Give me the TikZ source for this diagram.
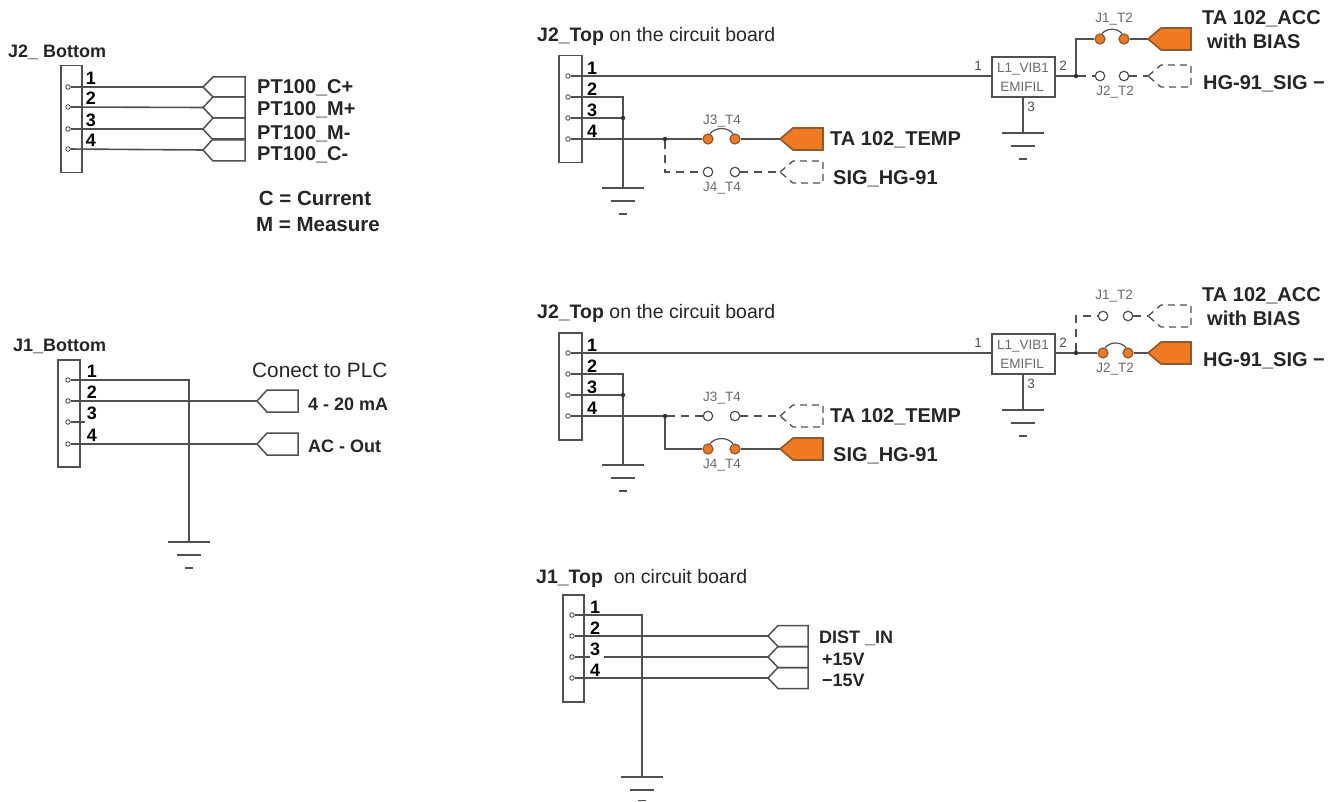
\documentclass[tikz,border=0pt]{standalone}
\usepackage{fontspec}
\setmainfont{Liberation Sans}
\definecolor{ln}{HTML}{505050}
\definecolor{tx}{HTML}{262626}
\definecolor{sm}{HTML}{6A6A6A}
\definecolor{org}{HTML}{F07A22}
\definecolor{orgd}{HTML}{8A5A30}
\tikzset{
  wire/.style={draw=ln,line width=1.6pt},
  wireheavy/.style={draw=ln,line width=2.2pt},
  wireon/.style={draw=ln,line width=1.6pt},
  wireoff/.style={draw=ln,line width=1.3pt,dash pattern=on 8pt off 6pt},
  swon/.style={circle,draw=orgd,fill=org,line width=1.2pt,minimum size=10pt,inner sep=0pt},
  swoff/.style={circle,draw=ln,fill=white,line width=1.2pt,minimum size=9.5pt,inner sep=0pt},
  tagon/.style={draw=orgd,fill=org,line width=1.6pt},
  tagoff/.style={draw=ln,line width=1.3pt,dash pattern=on 7pt off 5pt},
  tagplain/.style={draw=ln,line width=1.5pt},
  hdr/.style={draw=ln,line width=1.5pt,fill=white,anchor=north west,inner sep=0pt},
  pinmark/.style={circle,draw=ln,fill=white,line width=.9pt,minimum size=4.5pt,inner sep=0pt},
  num/.style={font=\fontsize{18}{20}\selectfont\bfseries,text=black,inner sep=0pt},
  blab/.style={font=\fontsize{20}{22}\selectfont\bfseries,text=tx,anchor=mid west,inner sep=0pt,yshift=-4pt},
  clab/.style={font=\fontsize{20.5}{22}\selectfont\bfseries,text=tx,anchor=center,inner sep=0pt},
  mlab/.style={font=\fontsize{18}{20}\selectfont\bfseries,text=tx,anchor=mid west,inner sep=0pt,yshift=-4pt},
  rlab/.style={font=\fontsize{19.5}{21}\selectfont,text=tx,anchor=mid west,inner sep=0pt,yshift=-4pt},
  plclab/.style={font=\fontsize{20.8}{23}\selectfont,text=tx,anchor=mid west,inner sep=0pt,yshift=-4pt},
  smalltxt/.style={font=\fontsize{13.5}{15}\selectfont,text=sm,inner sep=0pt},
  filt/.style={draw=ln,line width=1.6pt,fill=white,minimum width=63pt,minimum height=40pt,inner sep=0pt},
  jdot/.style={circle,fill=black!80,minimum size=4.5pt,inner sep=0pt},
}
% name, box x, box y, box w, pin x, pin ys, number x, number y offset
\newcommand{\header}[8]{%
  \node[hdr,minimum width=#4pt,minimum height=107pt] (#1) at (#2,#3) {};
  \foreach \i/\py in {#6}{\node[pinmark] (#1-\i) at (#5,\py) {};}
  \foreach \i/\py in {#6}{\node[num] (#1-n\i) at (#7,\py+#8) {\i};}
}
% name, tip x, y, slope dx, right x, half height
\newcommand{\plaintag}[6]{%
  \coordinate (#1) at (#2,#3);
  \draw[tagplain] (#1) -- ++(#4,-#6) -- (#5,#3-#6) -- (#5,#3+#6) -- (#2+#4,#3+#6) -- cycle;
}
% name, x, y, offset of the third bar
\newcommand{\gnd}[4]{%
  \coordinate (#1) at (#2,#3);
  \draw[wire] (#2-21,#3) -- (#2+21,#3);
  \draw[wire] (#2-12,#3+13) -- (#2+12,#3+13);
  \draw[wire] (#2-4,#3+#4) -- (#2+4,#3+#4);
}
% name, x1, x2, tip x, y, state
\newcommand{\branch}[6]{%
  \node[sw#6] (#1-a) at (#2,#5) {};
  \node[sw#6] (#1-b) at (#3,#5) {};
  \coordinate (#1-t) at (#4,#5);
  \draw[wire#6] (#1-b) -- (#1-t);
  \draw[tag#6] (#1-t) -- ++(13,-11) -- (#4+43,#5-11) -- (#4+43,#5+11) -- (#4+13,#5+11) -- cycle;
  \csname arc#6\endcsname{#1}
}
\newcommand{\arcon}[1]{\draw[wireon,line width=1.2pt] (#1-a.70) to[bend left=50] (#1-b.110);}
\newcommand{\arcoff}[1]{}
% prefix, shift, temp state, sig state, acc state, hg state, x1, x2
\newcommand{\board}[8]{%
\begin{scope}[shift={(0,#2)}]
  \node[rlab] (#1-title) at (537,35) {\textbf{J2\_Top} on the circuit board};
  \header{#1-j}{558}{55}{23}{568}{1/76,2/97,3/118,4/139}{592}{-8}
  \node[filt] (#1-f) at (1023.5,77) {};
  \node[smalltxt] (#1-fa) at (1023,69) {L1\_VIB1};
  \node[smalltxt] (#1-fb) at (1022,87) {EMIFIL};
  \node[smalltxt,text=ln] (#1-f1) at (978,66) {1};
  \node[smalltxt,text=ln] (#1-f2) at (1063,66) {2};
  \node[smalltxt,text=ln] (#1-f3) at (1031,107) {3};
  \draw[wireheavy] (#1-j-1) -- (#1-f.west |- #1-j-1);
  \gnd{#1-g1}{623}{188}{26}
  \draw[wire] (#1-j-2) -| (#1-g1);
  \node[jdot] (#1-d3) at (623,118) {};
  \draw[wire] (#1-j-3) -- (#1-d3);
  \gnd{#1-g2}{1023}{133}{26}
  \draw[wire] (#1-f.south -| #1-g2) -- (#1-g2);
  \node[jdot] (#1-d4) at (665,139) {};
  \draw[wire] (#1-j-4) -- (#1-d4);
  \node[jdot] (#1-d5) at (1076,76) {};
  \draw[wire] (#1-f.east |- #1-d5) -- (#1-d5);
  \branch{#1-t}{708}{735}{780}{139}{#3}
  \branch{#1-s}{708}{735}{780}{172}{#4}
  \branch{#1-a}{#7}{#8}{1148}{39}{#5}
  \branch{#1-h}{#7}{#8}{1148}{76}{#6}
  \draw[wire#3] (#1-d4) -- (#1-t-a);
  \draw[wire#4] (#1-d4) |- (#1-s-a);
  \draw[wire#5] (#1-d5) |- (#1-a-a);
  \draw[wire#6] (#1-d5) -- (#1-h-a);
  \node[smalltxt] (#1-l1) at (722,121) {J3\_T4};
  \node[smalltxt] (#1-l2) at (722,188) {J4\_T4};
  \node[smalltxt] (#1-l3) at (1114,19) {J1\_T2};
  \node[smalltxt] (#1-l4) at (1115,92) {J2\_T2};
  \node[blab] (#1-tt) at (830,139) {TA 102\_TEMP};
  \node[blab] (#1-ts) at (833,178) {SIG\_HG-91};
  \node[blab] (#1-ta) at (1202,18) {TA 102\_ACC};
  \node[blab] (#1-tb) at (1207,42) {with BIAS};
  \node[blab] (#1-th) at (1203,83) {HG-91\_SIG −};
\end{scope}
}
\begin{document}
\begin{tikzpicture}[x=1pt,y=-1pt]
\useasboundingbox (0,0) rectangle (1343,802);
\fill[white] (0,0) rectangle (1343,802);
% J2 bottom
\node[mlab] (A-title) at (8,51) {J2\_ Bottom};
\header{A}{60}{65}{21}{68}{1/87,2/107,3/129,4/149}{91}{-9}
\plaintag{A-t1}{203}{87}{10}{245}{10}
\plaintag{A-t2}{203}{107.5}{10}{245}{10.5}
\plaintag{A-t3}{203}{129}{10}{245}{11}
\plaintag{A-t4}{203}{150}{10}{245}{11}
\draw[wire] (A-1) -- (A-t1);
\draw[wire] (A-2) -- (A-t2);
\draw[wire] (A-3) -- (A-t3);
\draw[wire] (A-4) -- (A-t4);
\node[blab] (A-l1) at (257,87) {PT100\_C+};
\node[blab] (A-l2) at (257,109) {PT100\_M+};
\node[blab] (A-l3) at (257,133) {PT100\_M-};
\node[blab] (A-l4) at (257,154) {PT100\_C-};
\node[clab] (A-c) at (315,198) {C = Current};
\node[clab] (A-m) at (318,225) {M = Measure};
% J1 bottom
\node[mlab] (B-title) at (13,345) {J1\_Bottom};
\header{B}{57}{359}{22}{68}{1/380,2/401,3/422,4/444}{92}{-9}
\gnd{B-g}{189}{542}{26}
\draw[wire] (B-1) -| (B-g);
\plaintag{B-t2}{257}{401}{10}{298}{11}
\plaintag{B-t4}{257}{444}{10}{298}{11}
\draw[wire] (B-2) -- (B-t2);
\draw[wire] (B-4) -- (B-t4);
\coordinate (B-s3) at (85,422);
\draw[wire] (B-3) -- (B-s3);
\node[plclab] (B-l0) at (252,371) {Conect to PLC};
\node[mlab] (B-l1) at (308,404) {4 - 20 mA};
\node[mlab] (B-l2) at (308,446) {AC - Out};
% boards
\board{C}{0}{on}{off}{on}{off}{1100}{1124}
\board{D}{277}{off}{on}{off}{on}{1103}{1128}
% J1 top
\node[rlab] (E-title) at (536,577) {\textbf{J1\_Top}\ \ on circuit board};
\header{E}{562}{594}{21}{572}{1/615,2/636,3/657,4/678}{595}{-8}
\gnd{E-g}{642}{777}{23.5}
\draw[wire] (E-1) -| (E-g);
\plaintag{E-t2}{768}{636}{10}{808}{10.5}
\plaintag{E-t3}{768}{657}{10}{808}{10.5}
\plaintag{E-t4}{768}{678}{10}{808}{10.5}
\draw[wire] (E-2) -- (E-t2);
\coordinate (E-s3a) at (590,657);
\coordinate (E-s3b) at (604,657);
\draw[wire] (E-3) -- (E-s3a);
\draw[wire] (E-s3b) -- (E-t3);
\draw[wire] (E-4) -- (E-t4);
\node[mlab] (E-l1) at (819,637) {DIST \_IN};
\node[mlab] (E-l2) at (822,659) {+15V};
\node[mlab] (E-l3) at (822,680) {−15V};
\end{tikzpicture}
\end{document}
